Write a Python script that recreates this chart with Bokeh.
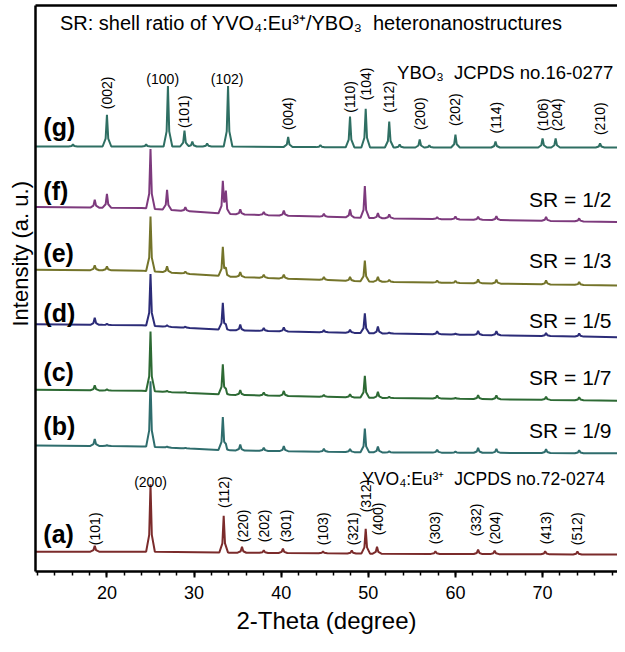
import numpy as np
from bokeh.plotting import figure
from bokeh.models import LinearAxis, SingleIntervalTicker, FixedTicker, Label, Range1d, Title
from bokeh.core.properties import value
from bokeh.embed import file_html
from bokeh.resources import INLINE

FONT = "Liberation Sans"

# ---------------- data ----------------
series_names = ["(a)", "(b)", "(c)", "(d)", "(e)", "(f)", "(g)"]
sr_texts = ["SR = 1/9", "SR = 1/7", "SR = 1/5", "SR = 1/3", "SR = 1/2"]
series_colors = ["#7b2b2b", "#2f6d6d", "#2d6a34", "#2c2c78", "#74742a", "#7d3a7d", "#2f6f63"]

# background level (a.u., stacked) at these 2-theta values
bg_x = [11.8, 24.0, 34.0, 50.0, 78.6]
bg_a = [20, 20, 19, 18, 17]
bg_b = [127, 126, 122, 120, 119]
bg_c = [183, 182, 178, 175, 172]
bg_d = [249, 248, 243, 240, 236]
bg_e = [304, 303, 297, 292, 288]
bg_f = [367, 366, 360, 356, 352]
bg_g = [428, 428, 428, 427, 427]

# (a) YVO4:Eu3+ core
peaks_a = [18.6, 25.0, 33.4, 35.5, 38.0, 40.2, 44.8, 48.1, 49.7, 51.0, 57.7, 62.6, 64.5, 70.3, 74.0]
int_a = [6, 68, 37, 6, 2.5, 4.5, 2, 3, 25, 7, 2.5, 4.5, 3.5, 3, 3]

# (b)-(f) heteronanostructures
peaks_mix = [18.6, 20.0, 25.0, 26.9, 29.0, 33.3, 33.65, 35.3, 38.0, 40.3, 44.9, 47.9, 49.6,
             51.1, 52.4, 57.9, 60.0, 62.6, 64.7, 70.4, 74.2]
int_b = [7, 1, 66, 1, 0.5, 33, 3, 6, 3, 5, 3, 3, 24, 6, 1, 3, 1, 5, 4, 4, 3]
int_c = [5, 1, 60, 1, 0.5, 30, 3, 5, 3, 5, 2, 3, 22, 6, 1, 3, 1, 4, 4, 3, 3]
int_d = [7, 1, 52, 1.5, 1, 27, 3, 6, 3, 4, 2, 3, 20, 7, 1, 3, 1, 4, 4, 3, 3]
int_e = [5, 4, 55, 6, 2, 29, 6, 5, 3, 4, 3, 4, 21, 5, 2, 2, 2, 4, 4, 4, 3]
int_f = [8, 14, 60, 20, 4, 31, 20, 5, 3, 5, 3, 8, 32, 5, 4, 2, 3, 3, 4, 4, 3]

# (g) YBO3
peaks_g = [16.1, 20.0, 24.5, 27.0, 28.9, 29.8, 31.5, 33.9, 40.8, 44.5, 47.9, 49.7, 52.4, 53.6,
           55.9, 57.0, 60.0, 64.6, 70.0, 71.5, 76.6]
int_g = [2, 32, 2, 61, 16, 5, 3, 61, 10, 2, 31, 39, 26, 3, 8, 2, 13, 6, 9, 9, 4]

# Miller-index labels
g_idx = ["(002)", "(101)", "(004)", "(110)", "(104)", "(112)", "(200)", "(202)", "(114)", "(106)", "(204)", "(210)"]
g_idx_x = [20.0, 28.9, 40.8, 47.9, 49.7, 52.4, 55.9, 60.0, 64.6, 70.0, 71.6, 76.6]
g_idx_y = [482, 463, 461, 478, 491, 478, 461, 465, 457, 460, 460, 456]
g_hidx = ["(100)", "(102)"]
g_hidx_x = [26.4, 33.8]
g_hidx_y = [496, 496]

a_idx = ["(101)", "(112)", "(220)", "(202)", "(301)", "(103)", "(321)", "(312)", "(400)", "(303)",
         "(332)", "(204)", "(413)", "(512)"]
a_idx_x = [18.6, 33.4, 35.6, 38.0, 40.5, 44.8, 48.2, 49.7, 51.1, 57.7, 62.4, 64.5, 70.4, 74.0]
a_idx_y = [43, 80, 46, 46, 46, 43, 43, 76, 53, 44, 52, 44, 44, 43]
a_hidx = ["(200)"]
a_hidx_x = [25.0]
a_hidx_y = [90]

name_x = [12.7] * 7
name_y = [38, 147, 201, 260, 321, 383, 448]
sr_x = [77.9] * 5
sr_y = [142, 195, 253, 313, 375]

# ---------------- helpers ----------------
HW_OUT, HW_IN = 0.5, 0.15  # drawing half-widths of a peak (deg)


def pattern(bgv, pos, inten):
    knots = list(bg_x)
    for c in pos:
        knots += [c - HW_OUT, c - HW_IN, c, c + HW_IN, c + HW_OUT]
    xs = np.unique(np.clip(np.array(knots), bg_x[0], bg_x[-1]))
    ys = np.interp(xs, bg_x, bgv)
    for c, h in zip(pos, inten):
        ys = ys + np.interp(xs, [c - HW_OUT, c - HW_IN, c, c + HW_IN, c + HW_OUT],
                            [0, 0.25 * h, h, 0.25 * h, 0], left=0, right=0)
    return xs, ys


p = figure(width=617, height=636, x_range=Range1d(11.8, 78.6), y_range=Range1d(0, 570),
           output_backend="svg", toolbar_location=None,
           x_axis_location=None, y_axis_location=None,
           min_border_left=35, min_border_right=0, min_border_top=5, min_border_bottom=61)
p.outline_line_color = None
p.grid.grid_line_color = None
p.background_fill_color = "white"

# axes (frame drawn by axis lines)
xax = LinearAxis(ticker=SingleIntervalTicker(interval=10, num_minor_ticks=5),
                 axis_label="2-Theta (degree)")
xax.axis_line_width = 2.5
xax.major_tick_in = 0
xax.major_tick_out = 6
xax.minor_tick_in = 0
xax.minor_tick_out = 4
xax.major_tick_line_width = 2
xax.minor_tick_line_width = 1.5
xax.major_label_text_font = FONT
xax.major_label_text_font_size = "18px"
xax.major_label_text_color = "black"
xax.major_label_standoff = 8
xax.axis_label_text_font = FONT
xax.axis_label_text_font_size = "24px"
xax.axis_label_text_font_style = "normal"
xax.axis_label_text_color = "black"
xax.axis_label_standoff = 5
p.add_layout(xax, "below")

for loc in ("left", "above"):
    ax = LinearAxis(ticker=FixedTicker(ticks=[]))
    ax.axis_line_width = 2.5
    ax.major_tick_out = 0
    ax.minor_tick_out = 0
    ax.major_label_text_font_size = "0px"
    p.add_layout(ax, loc)

p.add_layout(Title(text="Intensity (a. u.)", align="left", offset=245, standoff=6,
                   text_font=FONT, text_font_size="22px", text_font_style="normal",
                   text_color="black"), "left")

bgs = [bg_a, bg_b, bg_c, bg_d, bg_e, bg_f, bg_g]
poss = [peaks_a, peaks_mix, peaks_mix, peaks_mix, peaks_mix, peaks_mix, peaks_g]
ints = [int_a, int_b, int_c, int_d, int_e, int_f, int_g]
for bgv, pos, inten, col in zip(bgs, poss, ints, series_colors):
    xs, ys = pattern(bgv, pos, inten)
    p.line(xs, ys, line_color=col, line_width=2)

# index labels
rot = dict(angle=np.pi / 2, text_align="center", text_baseline="middle",
           text_font=value(FONT), text_font_size="14px", text_color="black")
p.text(x=g_idx_x, y=g_idx_y, text=g_idx, **rot)
p.text(x=a_idx_x, y=a_idx_y, text=a_idx, **rot)
hor = dict(text_align="center", text_baseline="middle",
           text_font=value(FONT), text_font_size="14px", text_color="black")
p.text(x=g_hidx_x, y=g_hidx_y, text=g_hidx, **hor)
p.text(x=a_hidx_x, y=a_hidx_y, text=a_hidx, **hor)

p.text(x=name_x, y=name_y, text=series_names, text_align="left", text_baseline="middle",
       text_font=value(FONT), text_font_size="25px", text_font_style="bold", text_color="black")
p.text(x=sr_x, y=sr_y, text=sr_texts, text_align="right", text_baseline="middle",
       text_font=value(FONT), text_font_size="21px", text_color="black")

p.add_layout(Label(x=14.6, y=552, text="SR: shell ratio of YVO₄:Eu³⁺/YBO₃\u00a0 heteronanostructures",
                   text_baseline="middle", text_font=FONT, text_font_size="20px", text_color="black"))
p.add_layout(Label(x=53.3, y=503, text="YBO₃\u00a0 JCPDS no.16-0277",
                   text_baseline="middle", text_font=FONT, text_font_size="18.5px", text_color="black"))
p.add_layout(Label(x=49.3, y=93, text="YVO₄:Eu³⁺\u00a0 JCPDS no.72-0274",
                   text_baseline="middle", text_font=FONT, text_font_size="17.5px", text_color="black"))

open("out.html", "w").write(file_html(p, INLINE))
